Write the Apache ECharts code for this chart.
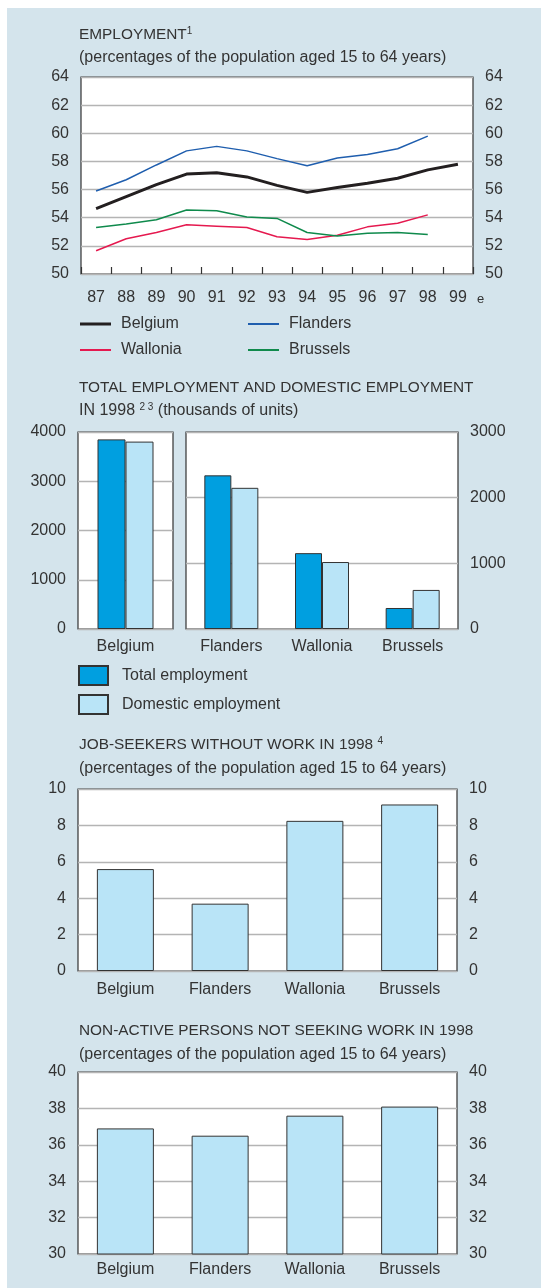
<!DOCTYPE html>
<html>
<head>
<meta charset="utf-8">
<script src="https://cdn.jsdelivr.net/npm/echarts@6/dist/echarts.min.js"></script>
<style>
  html, body { margin: 0; padding: 0; background: #fff; }
  #panel { position: absolute; left: 7px; top: 8px; width: 534px; height: 1280px; background: #d4e4ec; }
  #main { position: absolute; left: 0; top: 0; width: 541px; height: 1288px; }
</style>
</head>
<body>
<div id="panel"></div>
<div id="main"></div>
<script>
// chart 1: employment rate
var years = ['87', '88', '89', '90', '91', '92', '93', '94', '95', '96', '97', '98', '99'];
var belgium = [54.65, 55.5, 56.35, 57.1, 57.2, 56.9, 56.3, 55.8, 56.15, 56.45, 56.8, 57.4, 57.8];
var flanders = [55.9, 56.7, 57.75, 58.75, 59.07, 58.75, 58.2, 57.7, 58.25, 58.5, 58.9, 59.8, null];
var wallonia = [51.65, 52.5, 52.95, 53.5, 53.4, 53.3, 52.65, 52.45, 52.75, 53.35, 53.6, 54.2, null];
var brussels = [53.3, 53.55, 53.85, 54.55, 54.5, 54.05, 53.95, 52.95, 52.7, 52.9, 52.95, 52.8, null];

// chart 2: total and domestic employment (thousands)
var nationCat = ['Belgium'];
var regionCat = ['Flanders', 'Wallonia', 'Brussels'];
var totalNation = [3850];
var domesticNation = [3805];
var totalRegions = [2340, 1155, 320];
var domesticRegions = [2150, 1020, 595];

// chart 3 and 4
var areas = ['Belgium', 'Flanders', 'Wallonia', 'Brussels'];
var jobSeekers = [5.6, 3.7, 8.25, 9.15];
var nonActive = [36.9, 36.5, 37.6, 38.1];

var FONT = "'Liberation Sans', Arial, sans-serif";
var TXT = '#333';
var GRIDC = '#b4b4b4';
var DARK_BAR = '#009fe0';
var LIGHT_BAR = '#b9e4f7';

var myChart = echarts.init(document.getElementById('main'));

function gridBox(l, t, w, h) {
    return {
        left: l, top: t, width: w, height: h,
        show: true, backgroundColor: '#fff',
        borderColor: '#333', borderWidth: 1.2,
        containLabel: false
    };
}

function valAxis(gi, pos, min, max, step, split) {
    return {
        type: 'value', gridIndex: gi, position: pos,
        min: min, max: max, interval: step,
        axisLine: { show: false }, axisTick: { show: false },
        axisLabel: {
            color: TXT, fontSize: 16, fontFamily: FONT, margin: 12,
            formatter: function (v) { return String(v); }
        },
        splitLine: { show: split, lineStyle: { color: GRIDC, width: 1.3 } }
    };
}

function catAxis(gi, cats, margin, ticks) {
    return {
        type: 'category', gridIndex: gi, data: cats,
        axisLine: { show: false },
        axisTick: ticks ? { show: true, inside: true, length: 7, lineStyle: { color: '#333', width: 1.2 } } : { show: false },
        axisLabel: { color: TXT, fontSize: 16, fontFamily: FONT, margin: margin }
    };
}

// title lines; caps lines run a bit narrower in the original
function txt(x, y, s, size) {
    return {
        type: 'text', x: x, y: y,
        style: {
            text: s, fill: TXT, fontSize: size || 16, fontFamily: FONT,
            verticalAlign: 'middle',
            rich: {
                s: { fontSize: 10, fontFamily: FONT, fill: TXT, verticalAlign: 'top', padding: [0, 0, 8, 0] }
            }
        }
    };
}

function lineLegend(name, left, top, h) {
    return {
        orient: 'vertical', left: left, top: top, padding: 0,
        itemWidth: 31, itemHeight: h, icon: 'rect',
        data: [name],
        textStyle: { color: TXT, fontSize: 16, fontFamily: FONT, padding: [0, 0, 0, 5] }
    };
}

function lineSeries(name, data, color, w) {
    return {
        name: name, type: 'line', xAxisIndex: 0, yAxisIndex: 0,
        data: data, symbol: 'none', smooth: false,
        lineStyle: { color: color, width: w }, itemStyle: { color: color }
    };
}

var barBorder = { borderColor: '#333', borderWidth: 1 };
var CAPS = 15.4;

var option = {
    animation: false,
    textStyle: { fontFamily: FONT },
    grid: [
        gridBox(81, 77, 392, 197),
        gridBox(78, 432, 95, 197),
        gridBox(186, 432, 272, 197),
        gridBox(78, 789, 379, 182),
        gridBox(78, 1072, 379, 182)
    ],
    xAxis: [
        catAxis(0, years, 16, true),
        catAxis(1, nationCat, 10, false),
        catAxis(2, regionCat, 10, false),
        catAxis(3, areas, 11, false),
        catAxis(4, areas, 8, false)
    ],
    yAxis: [
        valAxis(0, 'left', 50, 64, 2, true),
        valAxis(0, 'right', 50, 64, 2, false),
        valAxis(1, 'left', 0, 4000, 1000, true),
        valAxis(2, 'right', 0, 3000, 1000, true),
        valAxis(3, 'left', 0, 10, 2, true),
        valAxis(3, 'right', 0, 10, 2, false),
        valAxis(4, 'left', 30, 40, 2, true),
        valAxis(4, 'right', 30, 40, 2, false)
    ],
    legend: [
        lineLegend('Belgium', 80, 316, 3),
        lineLegend('Wallonia', 80, 342, 2),
        lineLegend('Flanders', 248, 316, 2),
        lineLegend('Brussels', 248, 342, 2),
        {
            orient: 'vertical', left: 78, top: 665, itemGap: 8, padding: 0,
            itemWidth: 29, itemHeight: 19, icon: 'rect',
            data: ['Total employment', 'Domestic employment'],
            textStyle: { color: TXT, fontSize: 16, fontFamily: FONT, padding: [0, 0, 0, 9] }
        }
    ],
    graphic: [
        txt(79, 35, 'EMPLOYMENT{s|1}', CAPS),
        txt(79, 58, '(percentages of the population aged 15 to 64 years)'),
        txt(477, 299, 'e', 13),
        txt(79, 388, 'TOTAL EMPLOYMENT AND DOMESTIC EMPLOYMENT', CAPS),
        txt(79, 411, 'IN 1998 {s|2 3} (thousands of units)'),
        txt(79, 745, 'JOB-SEEKERS WITHOUT WORK IN 1998 {s|4}', CAPS),
        txt(79, 769, '(percentages of the population aged 15 to 64 years)'),
        txt(79, 1031, 'NON-ACTIVE PERSONS NOT SEEKING WORK IN 1998', CAPS),
        txt(79, 1055, '(percentages of the population aged 15 to 64 years)')
    ],
    series: [
        lineSeries('Belgium', belgium, '#231f20', 3),
        lineSeries('Flanders', flanders, '#1f5eae', 1.5),
        lineSeries('Wallonia', wallonia, '#e5194f', 1.5),
        lineSeries('Brussels', brussels, '#0f8a4c', 1.5),
        {
            name: 'Total employment', type: 'bar', xAxisIndex: 1, yAxisIndex: 2,
            data: totalNation, barWidth: 28, barGap: '0%',
            itemStyle: Object.assign({ color: DARK_BAR }, barBorder)
        },
        {
            name: 'Domestic employment', type: 'bar', xAxisIndex: 1, yAxisIndex: 2,
            data: domesticNation, barWidth: 28, barGap: '0%',
            itemStyle: Object.assign({ color: LIGHT_BAR }, barBorder)
        },
        {
            name: 'Total employment', type: 'bar', xAxisIndex: 2, yAxisIndex: 3,
            data: totalRegions, barWidth: 27, barGap: '0%',
            itemStyle: Object.assign({ color: DARK_BAR }, barBorder)
        },
        {
            name: 'Domestic employment', type: 'bar', xAxisIndex: 2, yAxisIndex: 3,
            data: domesticRegions, barWidth: 27, barGap: '0%',
            itemStyle: Object.assign({ color: LIGHT_BAR }, barBorder)
        },
        {
            name: 'Job-seekers', type: 'bar', xAxisIndex: 3, yAxisIndex: 4,
            data: jobSeekers, barWidth: 57,
            itemStyle: Object.assign({ color: LIGHT_BAR }, barBorder)
        },
        {
            name: 'Non-active', type: 'bar', xAxisIndex: 4, yAxisIndex: 6,
            data: nonActive, barWidth: 57,
            itemStyle: Object.assign({ color: LIGHT_BAR }, barBorder)
        }
    ]
};
myChart.setOption(option);
window.addEventListener('resize', function () {
    myChart.resize();
});
</script>
</body>
</html>
